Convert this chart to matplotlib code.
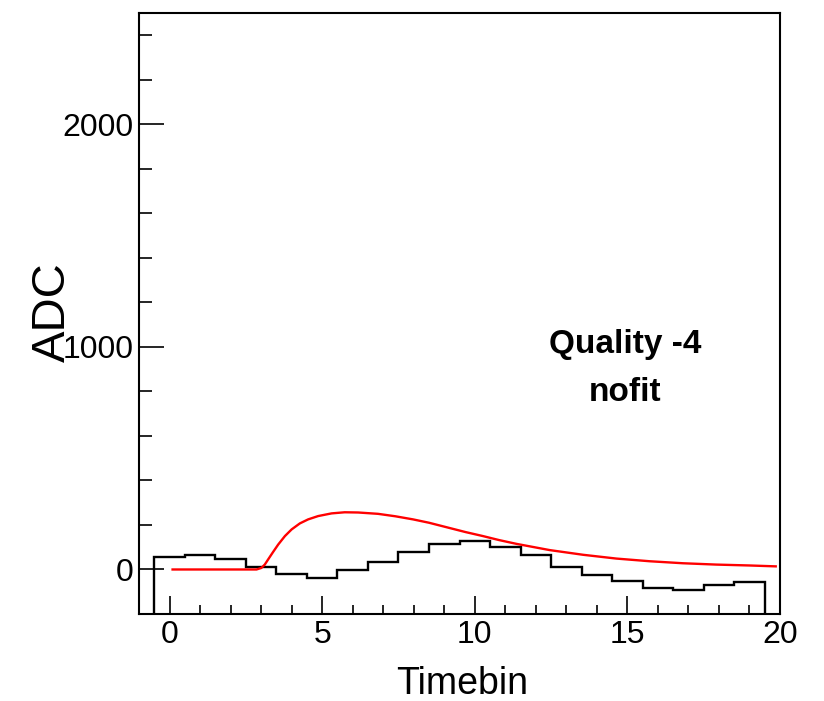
import numpy as np
import matplotlib
matplotlib.use('Agg')
import matplotlib.pyplot as plt
from matplotlib.ticker import MultipleLocator

plt.rcParams['font.family'] = ['Liberation Sans', 'DejaVu Sans']

# Histogram contents (one bin per timebin, edges at -0.5 ... 19.5)
bin_edges = np.arange(-0.5, 20.0, 1.0)
adc_values = [58, 67, 46, 12, -19, -40, -1, 34, 79, 114, 130,
              103, 64, 10, -24, -51, -85, -90, -69, -57]

# Pulse shape (red curve)
curve_t = [0.1, 1.0, 2.0, 2.85, 3.01, 3.12, 3.23, 3.39, 3.56, 3.78, 4.0,
           4.27, 4.54, 4.87, 5.31, 5.74, 6.18, 6.83, 7.4, 7.98, 8.5, 9.1,
           9.7, 10.27, 10.8, 11.37, 12.46, 13.55, 14.64, 15.73,
           16.82, 17.91, 19.0, 19.86]
curve_adc = [0, 0, 0, 0, 7, 22, 45, 78, 112, 150, 180,
             207, 225, 240, 252, 257, 256, 250, 239, 225, 210, 189,
             168, 150, 132, 115, 87, 66, 49, 37,
             28, 22, 18, 14]

quality = -4
fit_status = 'nofit'

fig = plt.figure(figsize=(8.24, 7.01), dpi=100)
ax = fig.add_axes([139 / 824, 1 - 614 / 701, 641 / 824, 601 / 701])

ymin, ymax = -200, 2500
ax.stairs(adc_values, bin_edges, baseline=ymin, color='black', linewidth=1.7)
ax.plot(curve_t, curve_adc, color='#ff0000', linewidth=1.7)

ax.set_xlim(-1, 20)
ax.set_ylim(ymin, ymax)

# ROOT style ticks: inside, only bottom and left
ax.xaxis.set_major_locator(MultipleLocator(5))
ax.xaxis.set_minor_locator(MultipleLocator(1))
ax.yaxis.set_major_locator(MultipleLocator(1000))
ax.yaxis.set_minor_locator(MultipleLocator(200))
ax.tick_params(axis='x', which='major', direction='in', length=13, width=1.2,
               labelsize=23, pad=4)
ax.tick_params(axis='x', which='minor', direction='in', length=6.5, width=1.2)
ax.tick_params(axis='y', which='major', direction='in', length=18, width=1.2,
               labelsize=23, pad=4)
ax.tick_params(axis='y', which='minor', direction='in', length=9, width=1.2)
for spine in ax.spines.values():
    spine.set_linewidth(1.5)

ax.set_xlabel('Timebin', fontsize=27, va='baseline')
ax.xaxis.set_label_coords(0.504, -0.133)
ax.set_ylabel('ADC', fontsize=34, va='center')
ax.yaxis.set_label_coords(-0.135, 0.5025)

ax.text(0.758, 0.4476, f'Quality {quality}', transform=ax.transAxes,
        fontsize=24, fontweight='bold', ha='center', va='center')
ax.text(0.758, 0.369, fit_status, transform=ax.transAxes,
        fontsize=24, fontweight='bold', ha='center', va='center')

fig.savefig('out.png', dpi=100)
